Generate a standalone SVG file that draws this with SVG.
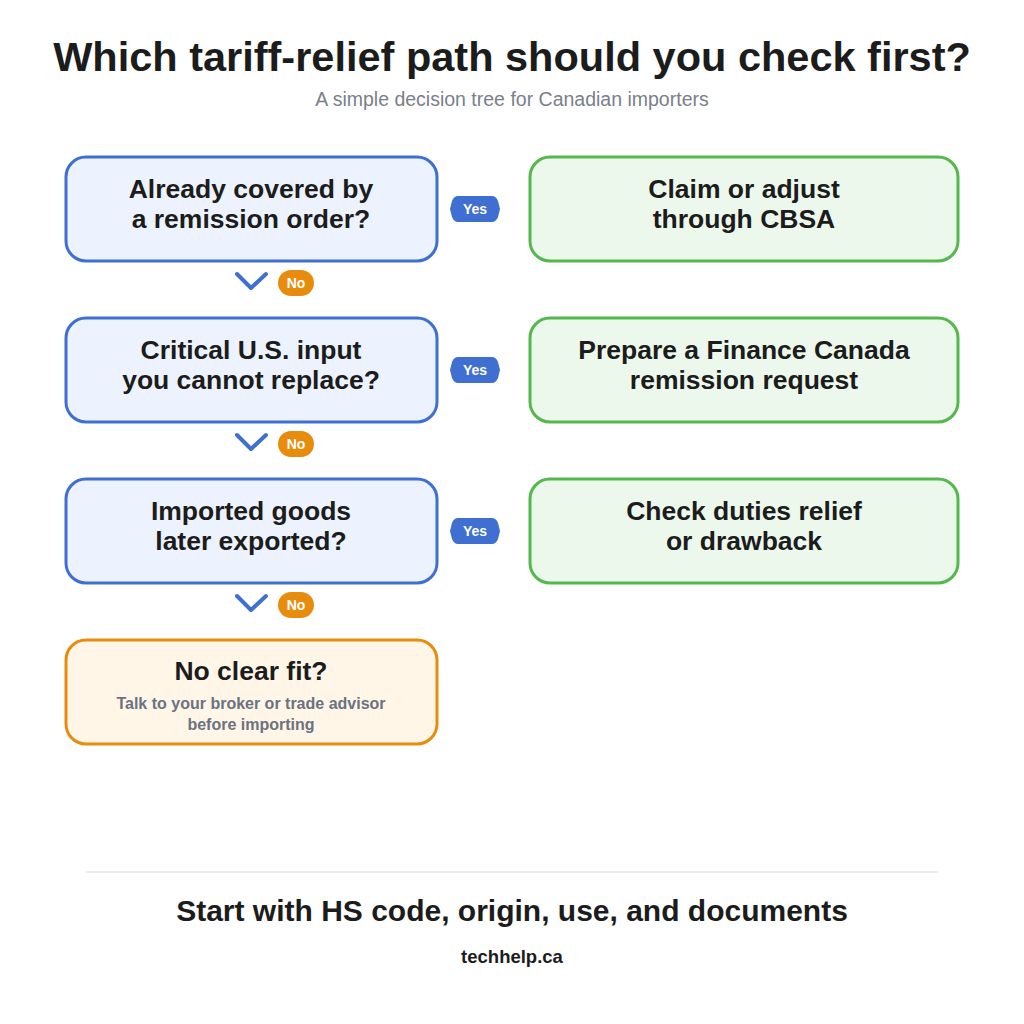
<svg xmlns="http://www.w3.org/2000/svg" width="1024" height="1024" viewBox="0 0 1024 1024">
<style>
.q{fill:#ecf3fe;stroke:#3f6fd1;stroke-width:3}
.a{fill:#edf8ec;stroke:#55b84c;stroke-width:3}
.f{fill:#fff6e8;stroke:#e88c0e;stroke-width:3}
.t{font-family:"Liberation Sans",Arial,sans-serif;font-weight:bold;font-size:26.5px;fill:#1c1c1c;text-anchor:middle}
.yb{fill:#3f6fd1}
.nb{fill:#e88c0e}
.bl{font-family:"Liberation Sans",Arial,sans-serif;font-weight:bold;font-size:14px;fill:#fff;text-anchor:middle}
.ch{fill:none;stroke:#3f6fd1;stroke-width:4;stroke-linecap:round;stroke-linejoin:round}
</style>
<rect width="1024" height="1024" fill="#fff"/>
<text x="512" y="71" class="t" style="font-size:41.5px">Which tariff-relief path should you check first?</text>
<text x="512" y="106" style="font-family:'Liberation Sans',Arial,sans-serif;font-size:19.5px;fill:#7a808a;text-anchor:middle">A simple decision tree for Canadian importers</text>

<g id="q1"><rect x="66" y="157" width="371" height="104" rx="20" class="q"/><text x="251" y="198" class="t">Already covered by</text><text x="251" y="228" class="t">a remission order?</text></g>
<g id="a1"><rect x="530" y="157" width="428" height="104" rx="20" class="a"/><text x="744" y="198" class="t">Claim or adjust</text><text x="744" y="228" class="t">through CBSA</text></g>
<g id="q2"><rect x="66" y="318" width="371" height="104" rx="20" class="q"/><text x="251" y="359" class="t">Critical U.S. input</text><text x="251" y="389" class="t">you cannot replace?</text></g>
<g id="a2"><rect x="530" y="318" width="428" height="104" rx="20" class="a"/><text x="744" y="359" class="t">Prepare a Finance Canada</text><text x="744" y="389" class="t">remission request</text></g>
<g id="q3"><rect x="66" y="479" width="371" height="104" rx="20" class="q"/><text x="251" y="520" class="t">Imported goods</text><text x="251" y="550" class="t">later exported?</text></g>
<g id="a3"><rect x="530" y="479" width="428" height="104" rx="20" class="a"/><text x="744" y="520" class="t">Check duties relief</text><text x="744" y="550" class="t">or drawback</text></g>
<g id="end"><rect x="66" y="640" width="371" height="104" rx="20" class="f"/><text x="251" y="680" class="t">No clear fit?</text>
<text x="251" y="709" style="font-family:'Liberation Sans',Arial,sans-serif;font-weight:bold;font-size:16px;fill:#6b7280;text-anchor:middle">Talk to your broker or trade advisor</text>
<text x="251" y="730" style="font-family:'Liberation Sans',Arial,sans-serif;font-weight:bold;font-size:16px;fill:#6b7280;text-anchor:middle">before importing</text></g>

<g id="connectors">
<g>
<path class="yb" d="M458 196 H492 Q496 196 498 201 L500 209 L498 217 Q496 222 492 222 H458 Q454 222 452 217 L450 209 L452 201 Q454 196 458 196Z"/><text x="475" y="214" class="bl">Yes</text>
<path class="ch" d="M237 274 L251 288 L266 274"/><rect x="278" y="270" width="36" height="26" rx="13" class="nb"/><text x="296" y="288" class="bl">No</text>
</g>
<g transform="translate(0,161)">
<path class="yb" d="M458 196 H492 Q496 196 498 201 L500 209 L498 217 Q496 222 492 222 H458 Q454 222 452 217 L450 209 L452 201 Q454 196 458 196Z"/><text x="475" y="214" class="bl">Yes</text>
<path class="ch" d="M237 274 L251 288 L266 274"/><rect x="278" y="270" width="36" height="26" rx="13" class="nb"/><text x="296" y="288" class="bl">No</text>
</g>
<g transform="translate(0,322)">
<path class="yb" d="M458 196 H492 Q496 196 498 201 L500 209 L498 217 Q496 222 492 222 H458 Q454 222 452 217 L450 209 L452 201 Q454 196 458 196Z"/><text x="475" y="214" class="bl">Yes</text>
<path class="ch" d="M237 274 L251 288 L266 274"/><rect x="278" y="270" width="36" height="26" rx="13" class="nb"/><text x="296" y="288" class="bl">No</text>
</g>
</g>

<line x1="86" y1="872" x2="938" y2="872" stroke="#e5e7eb" stroke-width="1.5"/>
<text x="512" y="921" class="t" style="font-size:30px">Start with HS code, origin, use, and documents</text>
<text x="512" y="963" class="t" style="font-size:18.5px">techhelp.ca</text>
</svg>
